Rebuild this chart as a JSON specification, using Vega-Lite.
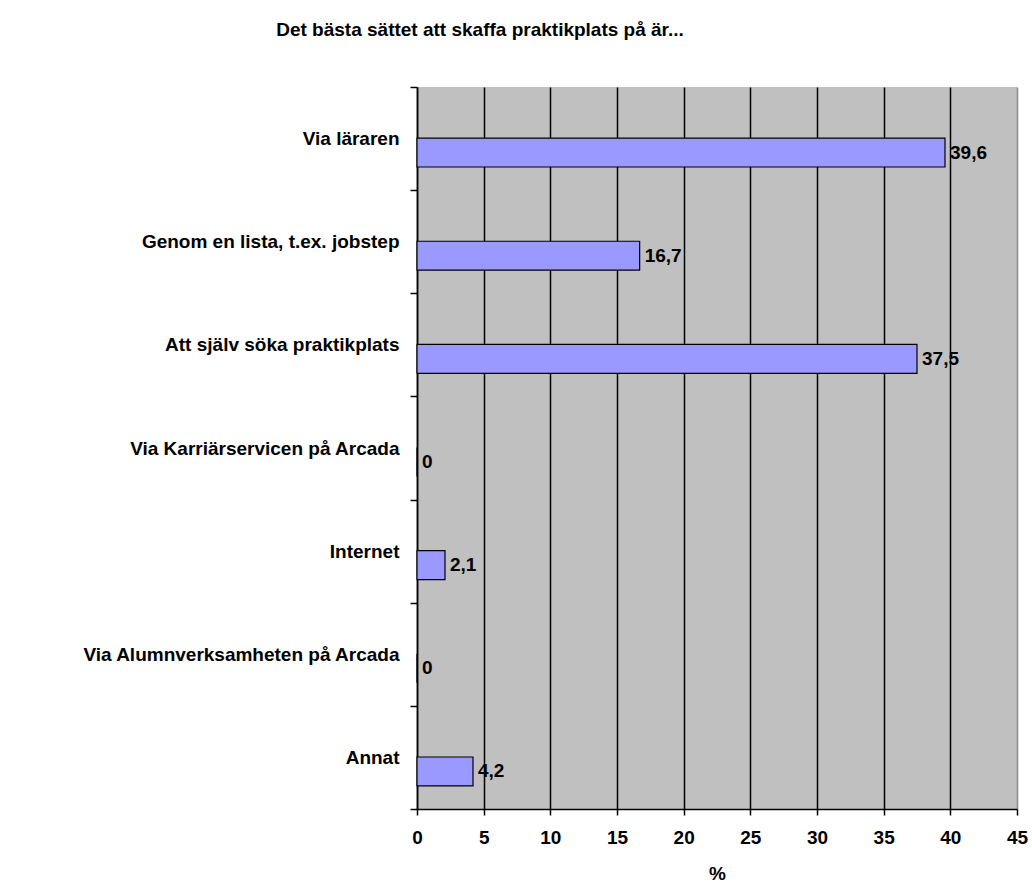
{
  "$schema": "https://vega.github.io/schema/vega-lite/v6.json",
  "autosize": "none",
  "width": 600,
  "height": 722,
  "padding": {"left": 417, "top": 87, "right": 15, "bottom": 85},
  "background": "white",
  "title": {
    "text": "Det bästa sättet att skaffa praktikplats på är...",
    "font": "Liberation Sans",
    "fontSize": 19,
    "fontWeight": "bold",
    "color": "black",
    "anchor": "middle",
    "frame": "group",
    "dx": -237,
    "offset": 38
  },
  "config": {
    "view": {"fill": "#c0c0c0", "stroke": null},
    "font": "Liberation Sans"
  },
  "data": {
    "values": [
      {"kategori": "Via läraren", "procent": 39.6, "etikett": "39,6"},
      {"kategori": "Genom en lista, t.ex. jobstep", "procent": 16.7, "etikett": "16,7"},
      {"kategori": "Att själv söka praktikplats", "procent": 37.5, "etikett": "37,5"},
      {"kategori": "Via Karriärservicen på Arcada", "procent": 0, "etikett": "0"},
      {"kategori": "Internet", "procent": 2.1, "etikett": "2,1"},
      {"kategori": "Via Alumnverksamheten på Arcada", "procent": 0, "etikett": "0"},
      {"kategori": "Annat", "procent": 4.2, "etikett": "4,2"}
    ]
  },
  "encoding": {
    "y": {
      "field": "kategori",
      "type": "nominal",
      "sort": null,
      "scale": {"paddingInner": 0, "paddingOuter": 0},
      "axis": {
        "title": null,
        "tickBand": "extent",
        "domainColor": "black",
        "domainWidth": 1.5,
        "tickColor": "black",
        "tickWidth": 1.5,
        "tickSize": 7,
        "labelPadding": 11,
        "labelFont": "Liberation Sans",
        "labelFontSize": 19,
        "labelFontWeight": "bold",
        "labelColor": "black",
        "labelLimit": 600,
        "grid": false
      }
    },
    "x": {
      "field": "procent",
      "type": "quantitative",
      "scale": {"domain": [0, 45], "nice": false},
      "axis": {
        "title": "%",
        "titleFont": "Liberation Sans",
        "titleFontSize": 19,
        "titleFontWeight": "bold",
        "titleColor": "black",
        "titlePadding": 17,
        "values": [0, 5, 10, 15, 20, 25, 30, 35, 40, 45],
        "domainColor": "black",
        "domainWidth": 1.5,
        "tickColor": "black",
        "tickWidth": 1.5,
        "tickSize": 6,
        "labelPadding": 13,
        "labelFont": "Liberation Sans",
        "labelFontSize": 19,
        "labelFontWeight": "bold",
        "labelColor": "black",
        "labelFlush": false,
        "grid": true,
        "gridColor": {"condition": {"test": "datum.value === 45", "value": "#8a8a8a"}, "value": "black"},
        "gridWidth": 1.5,
        "gridOpacity": 1
      }
    }
  },
  "layer": [
    {
      "mark": {"type": "bar", "fill": "#9999ff", "stroke": "black", "strokeWidth": 1.2, "yOffset": 14, "height": {"band": 0.28}}
    },
    {
      "mark": {
        "type": "text",
        "align": "left",
        "baseline": "middle",
        "dx": 5,
        "yOffset": 14,
        "font": "Liberation Sans",
        "fontSize": 19,
        "fontWeight": "bold",
        "color": "black"
      },
      "encoding": {"text": {"field": "etikett"}}
    }
  ]
}
